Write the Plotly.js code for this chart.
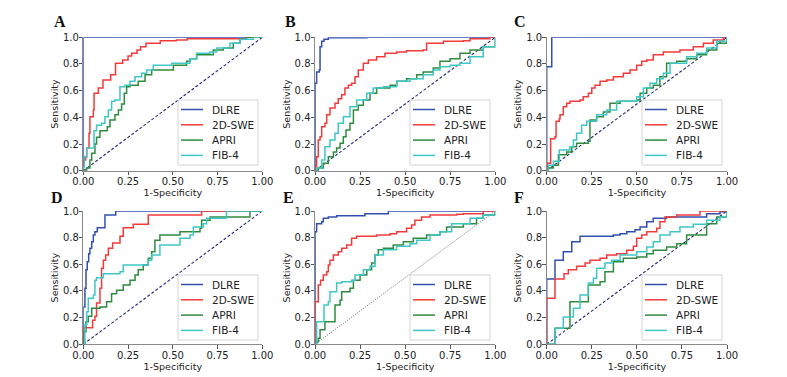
<!DOCTYPE html>
<html><head><meta charset="utf-8">
<script src="https://cdn.plot.ly/plotly-3.0.1.min.js"></script>
<style>html,body{margin:0;padding:0;background:#fff}</style>
</head><body><div id="chart" style="width:787px;height:377px"></div>
<script>
// ---- data ----
const panelLabels = ["A","B","C","D","E","F"];
const seriesNames = ["DLRE","2D-SWE","APRI","FIB-4"];
const xTicks = [0, 0.25, 0.5, 0.75, 1];
const yTicks = [0, 0.2, 0.4, 0.6, 0.8, 1];

const aDlreX = [0,0,1], aDlreY = [0,1,1];
const aSweX = [0,0,.013,.019,.032,.037,.056,.06,.084,.11,.153,.18,.22,.25,.27,.30,.32,.35,.43,.52,.58,.91,1];
const aSweY = [0,.08,.105,.17,.28,.405,.455,.58,.62,.68,.72,.805,.83,.86,.88,.905,.93,.955,.975,.98,.99,1,1];
const aApriX = [0,.019,.037,.047,.065,.074,.093,.134,.149,.177,.196,.214,.229,.242,.261,.307,.345,.382,.503,.577,.596,.633,.726,.782,.838,.875,.912,1];
const aApriY = [0,.02,.08,.13,.2,.25,.3,.33,.38,.42,.455,.5,.58,.63,.64,.67,.72,.755,.79,.82,.84,.87,.905,.92,.955,.985,1,1];
const aFibX = [0,0,.006,.019,.06,.074,.102,.121,.14,.158,.177,.205,.233,.261,.289,.326,.354,.391,.494,.596,.633,.708,.745,.819,.875,.95,1];
const aFibY = [0,.03,.105,.17,.3,.34,.355,.405,.455,.52,.53,.63,.64,.67,.705,.73,.755,.79,.805,.84,.88,.89,.92,.955,.985,1,1];

const bDlreX = [0,0,.009,.024,.028,.037,.05,.074,.287,1];
const bDlreY = [0,.655,.74,.755,.93,.97,.985,.997,1,1];
const bSweX = [0,0,.009,.018,.028,.037,.055,.065,.083,.111,.129,.148,.166,.185,.203,.222,.24,.268,.296,.342,.388,.453,.508,.6,.619,.712,.823,.86,.97,1];
const bSweY = [0,.03,.105,.23,.255,.33,.355,.42,.47,.505,.54,.57,.62,.64,.655,.705,.755,.805,.83,.855,.88,.89,.9,.905,.955,.97,.975,.99,1,1];
const bApriX = [0,.018,.046,.074,.102,.12,.139,.157,.172,.194,.213,.24,.268,.305,.342,.416,.453,.508,.564,.6,.656,.693,.749,.804,.86,.933,1];
const bApriY = [0,.02,.055,.105,.14,.17,.205,.255,.305,.355,.455,.49,.53,.58,.62,.64,.67,.69,.72,.74,.77,.82,.84,.88,.905,.93,1];
const bFibX = [0,.009,.037,.055,.083,.111,.129,.157,.194,.231,.287,.323,.379,.453,.527,.6,.656,.693,.749,.804,.86,.933,1];
const bFibY = [0,.02,.08,.18,.23,.28,.355,.405,.48,.53,.58,.62,.63,.67,.69,.72,.755,.78,.79,.805,.855,.93,1];

const cDlreX = [0,0,.028,1], cDlreY = [0,.78,1,1];
const cSweX = [0,.004,.022,.046,.052,.07,.074,.092,.111,.129,.185,.203,.231,.25,.268,.296,.333,.37,.425,.462,.499,.527,.555,.591,.647,.739,.813,.869,.924,.98,1];
const cSweY = [0,.055,.24,.255,.37,.39,.42,.48,.505,.52,.53,.555,.58,.62,.64,.67,.68,.705,.73,.755,.79,.82,.83,.87,.89,.905,.93,.955,.98,1,1];
const cApriX = [0,.009,.037,.065,.111,.139,.166,.231,.24,.277,.314,.351,.407,.499,.518,.555,.591,.628,.665,.721,.776,.832,.887,.943,1];
const cApriY = [0,.02,.04,.12,.14,.18,.205,.22,.38,.405,.44,.505,.52,.53,.58,.62,.64,.705,.805,.82,.84,.87,.905,.955,1];
const cFibX = [0,.009,.037,.07,.129,.148,.166,.194,.222,.277,.333,.388,.499,.536,.573,.61,.647,.684,.776,.832,.887,.943,1];
const cFibY = [0,.04,.07,.155,.18,.23,.28,.34,.37,.42,.455,.52,.555,.62,.655,.69,.73,.805,.855,.88,.92,.97,1];

const dDlreX = [0,0,.009,.015,.022,.03,.037,.047,.056,.065,.078,.121,.181,1];
const dDlreY = [0,.28,.42,.56,.62,.68,.72,.77,.82,.845,.875,.97,1,1];
const dSweX = [0,0,.052,.065,.074,.093,.102,.112,.125,.14,.164,.205,.223,.279,.363,.661,1];
const dSweY = [0,.125,.18,.21,.31,.42,.57,.63,.67,.72,.76,.81,.875,.9,.97,1,1];
const dApriX = [0,.004,.015,.028,.047,.093,.13,.158,.186,.223,.261,.289,.307,.335,.363,.382,.4,.428,.54,.652,.661,.708,.931,1];
const dApriY = [0,.095,.17,.21,.27,.28,.32,.38,.405,.445,.48,.52,.56,.595,.645,.695,.78,.82,.845,.87,.93,.955,1,1];
const dFibX = [0,.009,.019,.028,.056,.065,.074,.112,.205,.223,.363,.382,.428,.54,.596,.615,.67,.689,.8,1];
const dFibY = [0,.145,.245,.345,.37,.48,.5,.53,.545,.595,.63,.67,.745,.795,.82,.88,.905,.945,1,1];

const eDlreX = [0,0,.009,.037,.046,.074,.12,.277,.407,1];
const eDlreY = [0,.845,.905,.92,.945,.955,.965,.98,1,1];
const eSweX = [0,0,.018,.031,.046,.065,.074,.083,.102,.129,.148,.176,.203,.231,.342,.416,.453,.508,.536,.554,.591,.638,.786,.823,.933,1];
const eSweY = [0,.32,.445,.48,.52,.545,.595,.63,.67,.695,.72,.745,.795,.81,.82,.83,.845,.87,.895,.93,.955,.97,.975,.98,1,1];
const eApriX = [0,.009,.018,.028,.055,.111,.139,.148,.194,.213,.25,.287,.314,.333,.351,.379,.434,.49,.545,.619,.693,.73,.823,.896,.933,1];
const eApriY = [0,.02,.045,.11,.17,.295,.33,.395,.42,.48,.52,.56,.61,.67,.71,.72,.745,.77,.795,.82,.845,.88,.905,.945,.97,1];
const eFibX = [0,.009,.05,.074,.083,.12,.148,.203,.222,.268,.305,.333,.379,.453,.527,.564,.638,.693,.758,.86,.933,1];
const eFibY = [0,.17,.295,.32,.395,.46,.47,.48,.52,.56,.585,.67,.71,.735,.755,.78,.82,.845,.905,.945,.97,1];

const fDlreX = [0,0,.046,.092,.139,.185,.37,.407,.444,.49,.518,.555,.591,.665,.887,.961,1];
const fDlreY = [0,.49,.63,.695,.77,.81,.82,.83,.845,.86,.88,.92,.945,.955,.98,.995,1];
const fSweX = [0,0,.046,.096,.12,.166,.213,.24,.296,.333,.388,.444,.481,.499,.527,.555,.61,.628,.656,.721,.85,1];
const fSweY = [0,.345,.49,.53,.56,.585,.61,.63,.645,.67,.68,.705,.735,.795,.82,.845,.87,.92,.955,.97,1,1];
const fApriX = [0,.046,.129,.231,.296,.323,.37,.425,.499,.555,.591,.665,.721,.776,.887,.943,1];
const fApriY = [0,.12,.32,.445,.47,.545,.62,.645,.655,.68,.705,.73,.755,.82,.905,.955,1];
const fFibX = [0,.046,.092,.148,.185,.231,.259,.277,.323,.36,.407,.499,.555,.591,.628,.684,.739,.813,.887,.961,1];
const fFibY = [0,.12,.205,.27,.37,.46,.495,.57,.61,.63,.67,.695,.73,.77,.82,.845,.88,.9,.93,.955,1];

const diagX = [0, 1], diagY = [0, 1];

// ---- build ----
const panels = [
  [[aDlreX,aDlreY],[aSweX,aSweY],[aApriX,aApriY],[aFibX,aFibY]],
  [[bDlreX,bDlreY],[bSweX,bSweY],[bApriX,bApriY],[bFibX,bFibY]],
  [[cDlreX,cDlreY],[cSweX,cSweY],[cApriX,cApriY],[cFibX,cFibY]],
  [[dDlreX,dDlreY],[dSweX,dSweY],[dApriX,dApriY],[dFibX,dFibY]],
  [[eDlreX,eDlreY],[eSweX,eSweY],[eApriX,eApriY],[eFibX,eFibY]],
  [[fDlreX,fDlreY],[fSweX,fSweY],[fApriX,fApriY],[fFibX,fFibY]]
];
const colors = ["#3150ad","#f23a3a","#2f8c3f","#3fc6c6"];
const W = 787, H = 377;
const colPx = [[83.3,262.3],[315,495.3],[546.7,727]];
const rowPx = [[37.3,170.7],[211,344.3]];
const legBox = {w: 80, h: 65};
const legLeft = [178, 410, 642];
const legTop = [100, 275];
const letterPos = [[60,22],[290,22],[520,22],[57,198],[288,198],[519,198]];

const traces = [];
const layout = {
  width: W, height: H, margin: {l:0,r:0,t:0,b:0},
  paper_bgcolor: "#fff", plot_bgcolor: "#fff",
  font: {family: "DejaVu Sans, sans-serif", size: 10, color: "#262626"},
  showlegend: false, annotations: [], shapes: []
};
const tf = {family: "DejaVu Sans, sans-serif", size: 10, color: "#222"};
const px = v => v / W, py = v => 1 - v / H;

panels.forEach((series, p) => {
  const r = Math.floor(p/3), c = p % 3;
  const n = p === 0 ? "" : String(p+1);
  traces.push({x: diagX, y: diagY, xaxis: "x"+n, yaxis: "y"+n, mode: "lines",
    line: p === 4 ? {color: "#555", width: 0.9, dash: "1px,1.5px"} : {color: "#1f2a80", width: 1.1, dash: "3px,2px"},
    hoverinfo: "skip"});
  series.forEach((s, k) => {
    traces.push({x: s[0], y: s[1], xaxis: "x"+n, yaxis: "y"+n, mode: "lines",
      line: {color: colors[k], width: 1.5, shape: "hv"}, name: seriesNames[k], hoverinfo: "skip"});
  });
  const ax = {
    range: [0, 1], showgrid: false, zeroline: false, showline: true, linecolor: "#8a8a8a", linewidth: 1,
    ticks: "outside", ticklen: 3.5, tickcolor: "#555", tickwidth: 1, tickfont: tf, fixedrange: true
  };
  layout["xaxis"+n] = Object.assign({}, ax, {
    domain: [px(colPx[c][0]), px(colPx[c][1])], anchor: "y"+n,
    tickvals: xTicks, tickformat: ".2f", ticklabelstandoff: -2,
    title: {text: "1-Specificity", font: {family: "DejaVu Sans, sans-serif", size: 9.5, color: "#222"}, standoff: 0}
  });
  layout["yaxis"+n] = Object.assign({}, ax, {
    domain: [py(rowPx[r][1]), py(rowPx[r][0])], anchor: "x"+n,
    tickvals: yTicks, tickformat: ".1f", ticklabelstandoff: -2,
    title: {text: "Sensitivity", font: {family: "DejaVu Sans, sans-serif", size: 9.5, color: "#222"}, standoff: 2}
  });
  // legend box (drawn as shapes + text)
  const L = legLeft[c], T = legTop[r];
  layout.shapes.push({type: "rect", xref: "paper", yref: "paper",
    x0: px(L), x1: px(L + legBox.w), y0: py(T + legBox.h), y1: py(T),
    line: {color: "#d4d4d4", width: 1}, fillcolor: "rgba(255,255,255,0.85)", layer: "above"});
  seriesNames.forEach((nm, k) => {
    const yy = T + 9.5 + k * 15.3;
    layout.shapes.push({type: "line", xref: "paper", yref: "paper",
      x0: px(L + 3), x1: px(L + 25), y0: py(yy), y1: py(yy),
      line: {color: colors[k], width: 1.5}, layer: "above"});
    layout.annotations.push({text: nm, xref: "paper", yref: "paper", x: px(L + 32), y: py(yy),
      xanchor: "left", yanchor: "middle", showarrow: false,
      font: {family: "DejaVu Sans, sans-serif", size: 10.5, color: "#222"}});
  });
  layout.annotations.push({
    text: "<b>" + panelLabels[p] + "</b>", xref: "paper", yref: "paper",
    x: px(letterPos[p][0]), y: py(letterPos[p][1]), xanchor: "center", yanchor: "middle",
    showarrow: false, font: {family: "Liberation Serif, Times New Roman, serif", size: 16, color: "#111"}
  });
});

Plotly.newPlot("chart", traces, layout, {staticPlot: true, displayModeBar: false});
</script></body></html>
